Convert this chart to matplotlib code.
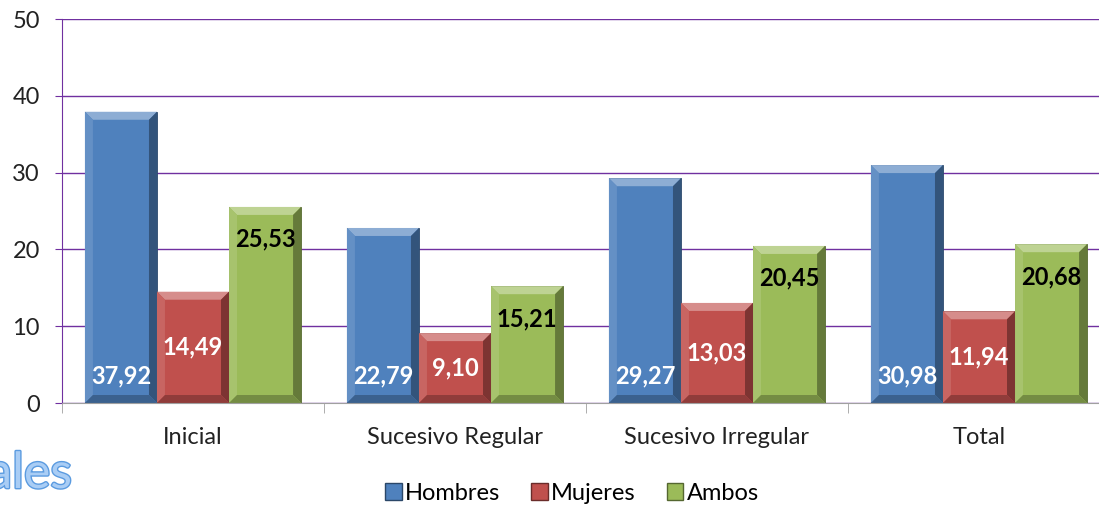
import matplotlib
matplotlib.use("Agg")
import matplotlib.pyplot as plt
import matplotlib.patheffects as pe
from matplotlib.patches import Polygon, Patch
import numpy as np

categories = ["Inicial", "Sucesivo Regular", "Sucesivo Irregular", "Total"]
series_names = ["Hombres", "Mujeres", "Ambos"]
hombres = [37.92, 22.79, 29.27, 30.98]
mujeres = [14.49, 9.10, 13.03, 11.94]
ambos = [25.53, 15.21, 20.45, 20.68]

colors = ["#4F81BD", "#C0504D", "#9BBB59"]
label_colors = ["white", "white", "black"]
label_pos = ["base", "center", "end"]

plt.rcParams["font.family"] = ["Lato", "DejaVu Sans"]


def shade(c, f):
    rgb = np.array(matplotlib.colors.to_rgb(c))
    if f >= 0:
        rgb = rgb + (1 - rgb) * f
    else:
        rgb = rgb * (1 + f)
    return tuple(np.clip(rgb, 0, 1))


W, H = 1099, 505
fig = plt.figure(figsize=(W / 100, H / 100), dpi=100)
ax = fig.add_axes([62 / W, 102 / H, 1048 / W, 384 / H])
ax.set_xlim(-0.5, 3.5)
ax.set_ylim(0, 50)

# bevel size in pixels -> data units
bev = 8
bx = bev * 4.0 / 1048
by = bev * 50.0 / 384

width = 0.275
x = np.arange(len(categories))
for k, (vals, col) in enumerate(zip([hombres, mujeres, ambos], colors)):
    xs = x + (k - 1) * width
    bars = ax.bar(xs, vals, width, color=col, edgecolor=shade(col, -0.45),
                  linewidth=0.6, zorder=3)
    for b, v in zip(bars, vals):
        x0, x1 = b.get_x(), b.get_x() + b.get_width()
        facets = [
            ([(x0, v), (x1, v), (x1 - bx, v - by), (x0 + bx, v - by)], shade(col, 0.35)),
            ([(x1, v), (x1, 0), (x1 - bx, by), (x1 - bx, v - by)], shade(col, -0.35)),
            ([(x0, v), (x0, 0), (x0 + bx, by), (x0 + bx, v - by)], shade(col, 0.12)),
            ([(x0, 0), (x1, 0), (x1 - bx, by), (x0 + bx, by)], shade(col, -0.25)),
        ]
        for pts, fc in facets:
            ax.add_patch(Polygon(pts, closed=True, facecolor=fc, edgecolor="none", zorder=4))
        xc = b.get_x() + b.get_width() / 2
        txt = f"{v:.2f}".replace(".", ",")
        if label_pos[k] == "base":
            ax.annotate(txt, (xc, 0), xytext=(0, 11), textcoords="offset points",
                        ha="center", va="bottom", fontsize=17, fontweight="bold",
                        color=label_colors[k], zorder=5)
        elif label_pos[k] == "center":
            ax.text(xc, v / 2, txt, ha="center", va="center", fontsize=17,
                    fontweight="bold", color=label_colors[k], zorder=5)
        else:
            ax.annotate(txt, (xc, v), xytext=(0, -15), textcoords="offset points",
                        ha="center", va="top", fontsize=17, fontweight="bold",
                        color=label_colors[k], zorder=5)

# axes styling
ax.set_yticks(range(0, 51, 10))
ax.grid(axis="y", color="#7030A0", linewidth=1.0, zorder=0)
ax.set_axisbelow(True)
for s in ["top", "right"]:
    ax.spines[s].set_visible(False)
ax.spines["left"].set_color("#7030A0")
ax.spines["bottom"].set_color("#A0A0A0")
ax.spines["bottom"].set_zorder(6)
ax.tick_params(axis="y", colors="#7030A0", labelcolor="#222222", labelsize=17,
               length=5, pad=11)
ax.set_xticks(x)
ax.set_xticklabels(categories)
ax.set_xticks(np.arange(-0.5, 3.6, 1.0), minor=True)
ax.tick_params(axis="x", which="major", length=0, labelsize=17, pad=17, labelcolor="#222222")
ax.tick_params(axis="x", which="minor", length=7, color="#A0A0A0")

# legend
handles = [Patch(facecolor=c, edgecolor=shade(c, -0.45)) for c in colors]
fig.legend(handles, series_names, loc="center", bbox_to_anchor=(572 / W, 1 - 493 / H),
           ncol=3, frameon=False, fontsize=17, handlelength=0.7, handleheight=0.7,
           handletextpad=0.15, columnspacing=1.3, borderaxespad=0)

# stray slide title fragment
fig.text(72 / W, 1 - 488 / H, "ales", ha="right", va="baseline", fontsize=36,
         color="#A9CDF5",
         path_effects=[pe.withStroke(linewidth=2, foreground="#5B9BE0")])

fig.savefig("out.png", dpi=100)
